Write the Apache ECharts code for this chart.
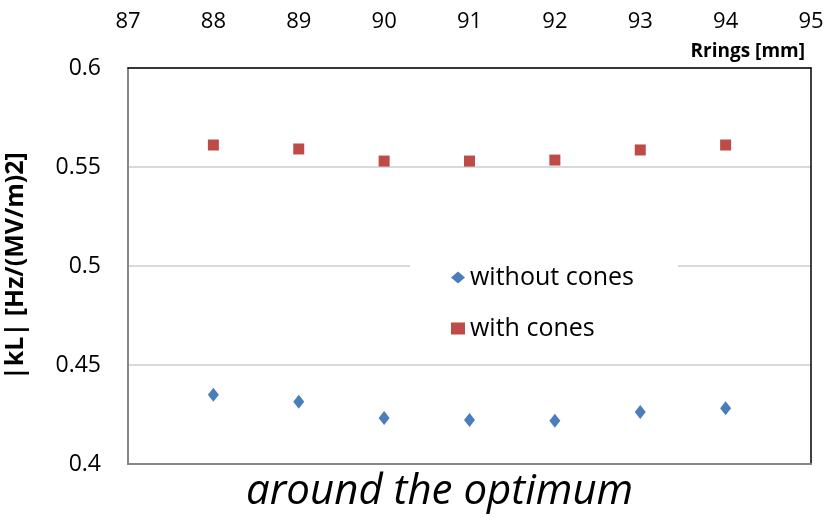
<!DOCTYPE html>
<html><head><meta charset="utf-8">
<script src="https://cdn.jsdelivr.net/npm/echarts@6/dist/echarts.min.js"></script>
<style>html,body{margin:0;padding:0;background:#fff}#c{width:829px;height:523px}</style>
</head><body><div id="c"></div>
<script>
const rrings = [88, 89, 90, 91, 92, 93, 94];
const withoutCones = [0.435, 0.4315, 0.4232, 0.4222, 0.4218, 0.4262, 0.4282];
const withCones = [0.5611, 0.5591, 0.5530, 0.5530, 0.5535, 0.5586, 0.5611];
const seriesNames = ['without cones', 'with cones'];
const FONT = '"Open Sans", "Liberation Sans", sans-serif';
const chart = echarts.init(document.getElementById('c'), null, {renderer: 'canvas'});
chart.setOption({
  animation: false,
  grid: {left: 128, right: 18, top: 68, bottom: 59, containLabel: false, outerBoundsMode: 'none'},
  xAxis: [{
    type: 'value', position: 'top', min: 87, max: 95, interval: 1,
    name: 'Rrings [mm]', nameLocation: 'end', nameGap: -6,
    nameTextStyle: {fontFamily: FONT, fontWeight: 'bold', fontSize: 19, color: '#000', align: 'right', verticalAlign: 'bottom', padding: [0, 0, 7, 0]},
    axisLine: {show: true, lineStyle: {color: '#000', width: 1.5}}, axisTick: {show: false}, splitLine: {show: false},
    axisLabel: {fontFamily: FONT, fontSize: 22, color: '#000', margin: 35}
  }, {
    type: 'value', position: 'bottom', min: 87, max: 95, interval: 1,
    axisLine: {show: true, lineStyle: {color: '#868686', width: 2}},
    axisTick: {show: false}, axisLabel: {show: false}, splitLine: {show: false}
  }],
  yAxis: [{
    type: 'value', min: 0.4, max: 0.6, interval: 0.05,
    name: '|kL| [Hz/(MV/m)2]', nameLocation: 'middle', nameGap: 100, nameRotate: 90,
    nameTextStyle: {fontFamily: FONT, fontWeight: 'bold', fontSize: 25, color: '#000'},
    axisLine: {show: true, lineStyle: {color: '#868686', width: 2}},
    axisTick: {show: false},
    splitLine: {show: true, lineStyle: {color: '#d9d9d9', width: 2}},
    axisLabel: {fontFamily: FONT, fontSize: 23, color: '#000', margin: 27,
      formatter: v => String(parseFloat(v.toFixed(2)))}
  }, {
    type: 'value', position: 'right', min: 0.4, max: 0.6, interval: 0.05,
    axisLine: {show: true, lineStyle: {color: '#000', width: 1.5}},
    axisTick: {show: false}, axisLabel: {show: false}, splitLine: {show: false}
  }],
  legend: {
    orient: 'vertical', left: 410, top: 251,
    backgroundColor: '#fff', padding: [14, 44, 14, 41], itemGap: 26,
    itemWidth: 14, itemHeight: 12,
    textStyle: {fontFamily: FONT, fontSize: 25, color: '#000'},
    data: [{name: seriesNames[0], icon: 'diamond'}, {name: seriesNames[1], icon: 'rect'}]
  },
  graphic: [{
    type: 'text', left: 246, top: 471,
    style: {text: 'around the optimum', font: 'italic 42px ' + FONT, fill: '#000'}
  }],
  series: [{
    name: seriesNames[0], type: 'scatter', symbol: 'diamond', symbolSize: [11, 14],
    itemStyle: {color: '#4a7ebb', opacity: 1},
    data: rrings.map((x, i) => [x, withoutCones[i]])
  }, {
    name: seriesNames[1], type: 'scatter', symbol: 'rect', symbolSize: 11,
    itemStyle: {color: '#be4b48', opacity: 1},
    data: rrings.map((x, i) => [x, withCones[i]])
  }]
});
</script></body></html>
